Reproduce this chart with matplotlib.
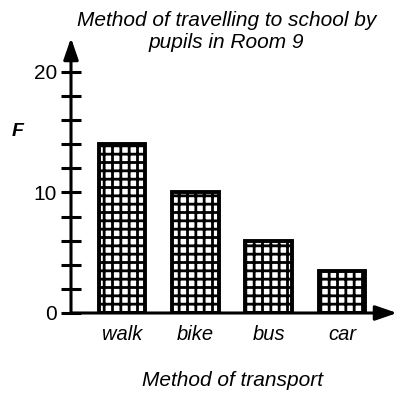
import numpy as np
import matplotlib
matplotlib.use('Agg')
import matplotlib.pyplot as plt

# data
modes = ['walk', 'bike', 'bus', 'car']
pupils = [14, 10, 6, 3.5]
y_ticks = np.arange(0, 21, 2)
y_labels = ['0', '', '', '', '', '10', '', '', '', '', '20']

W, H = 397, 394
plt.rcParams['font.family'] = ['Liberation Sans', 'DejaVu Sans']
plt.rcParams['hatch.linewidth'] = 2.0

fig = plt.figure(figsize=(W / 100, H / 100), dpi=100)
# axes box in pixels: left 71, right 397, bottom 313, top 38
ax = fig.add_axes([71 / W, 1 - 313 / H, (397 - 71) / W, (313 - 38) / H])

x = np.arange(len(modes))
ax.bar(x, pupils, width=0.64, color='white', edgecolor='black',
       linewidth=2.8, hatch='++', zorder=2)

ax.set_xlim(-0.695, 3.75)
ax.set_ylim(0, 22.8)

for s in ax.spines.values():
    s.set_visible(False)

# axes drawn as arrows
ax.annotate('', xy=(0, 1), xytext=(0, 0), xycoords='axes fraction',
            arrowprops=dict(arrowstyle='-|>,head_length=1.3,head_width=0.45',
                            color='black', lw=2.2, shrinkA=0, shrinkB=0))
ax.annotate('', xy=(1, 0), xytext=(0, 0), xycoords='axes fraction',
            arrowprops=dict(arrowstyle='-|>,head_length=1.3,head_width=0.45',
                            color='black', lw=2.2, shrinkA=0, shrinkB=0))

ax.set_yticks(y_ticks)
ax.set_yticklabels(y_labels, fontsize=15)
ax.tick_params(axis='y', direction='inout', length=14, width=2.2, pad=3)
ax.set_xticks(x)
ax.set_xticklabels(modes, fontsize=14.5, style='italic')
ax.tick_params(axis='x', length=0, pad=9)

fig.text(227 / W, 1 - 20 / H, 'Method of travelling to school by',
         ha='center', va='center', fontsize=15, style='italic')
fig.text(226 / W, 1 - 42 / H, 'pupils in Room 9',
         ha='center', va='center', fontsize=15, style='italic')
fig.text(232 / W, 1 - 381 / H, 'Method of transport',
         ha='center', va='center', fontsize=15, style='italic')
fig.text(18 / W, 1 - 131 / H, 'F', ha='center', va='center',
         fontsize=14, style='italic', weight='bold')

fig.savefig('out.png', dpi=100)
